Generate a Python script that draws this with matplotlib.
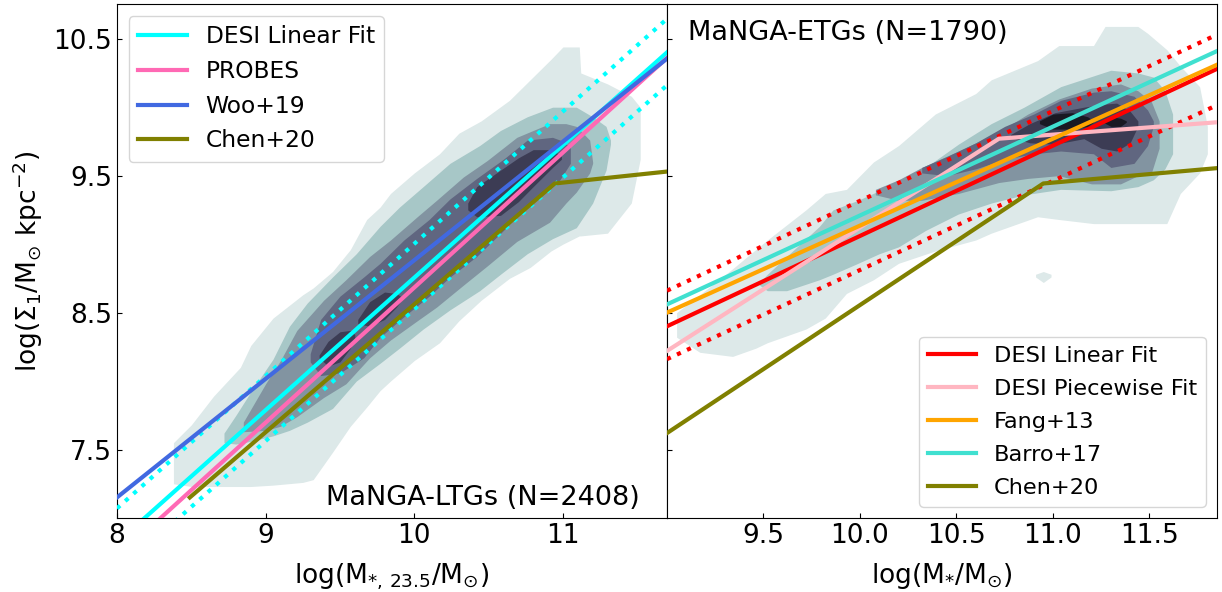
import matplotlib; matplotlib.use("Agg")
import matplotlib.pyplot as plt

# ---- density levels: (x, lower y, upper y) ----
LTG_L1 = [(8.38,7.25,7.55),(8.50,7.23,7.68),(8.65,7.23,7.89),(8.83,7.23,8.10),(8.90,7.23,8.26),
          (9.05,7.24,8.46),(9.25,7.26,8.63),(9.32,7.28,8.68),(9.45,7.48,8.80),(9.57,7.67,8.96),
          (9.68,7.81,9.18),(9.77,7.93,9.27),(9.84,8.00,9.37),(10.00,8.15,9.52),(10.17,8.28,9.66),
          (10.30,8.44,9.81),(10.45,8.59,9.90),(10.64,8.75,10.05),(10.78,8.83,10.20),(10.92,8.95,10.35),
          (11.00,9.00,10.44),(11.11,9.06,10.44),(11.12,9.06,10.25),(11.30,9.08,10.17),(11.46,9.30,10.08),
          (11.52,9.62,10.00)]
LTG_L2 = [(8.72,7.55,7.62),(8.80,7.54,7.75),(8.90,7.56,7.92),(9.05,7.60,8.16),(9.16,7.64,8.40),
          (9.28,7.70,8.57),(9.45,7.80,8.76),(9.61,8.00,8.93),(9.77,8.13,9.13),(9.90,8.24,9.27),
          (10.06,8.38,9.42),(10.24,8.52,9.59),(10.44,8.66,9.72),(10.58,8.78,9.83),(10.76,8.93,9.93),
          (10.93,9.04,10.00),(11.09,9.12,10.00),(11.20,9.30,9.93),(11.29,9.54,9.86),(11.32,9.73,9.76)]
LTG_L3 = [(8.85,7.63,7.70),(9.00,7.64,7.98),(9.10,7.67,8.15),(9.21,7.74,8.37),(9.39,7.88,8.59),
          (9.54,7.98,8.74),(9.70,8.17,8.91),(9.84,8.30,9.03),(10.02,8.44,9.20),(10.15,8.54,9.32),
          (10.33,8.70,9.49),(10.49,8.84,9.61),(10.69,9.02,9.78),(10.91,9.16,9.88),(11.02,9.30,9.88),
          (11.09,9.38,9.86),(11.18,9.52,9.76),(11.20,9.59,9.60)]
LTG_L4 = [(9.30,8.14,8.20),(9.37,8.04,8.45),(9.50,8.06,8.62),(9.66,8.17,8.76),(9.77,8.32,8.86),
          (9.93,8.47,9.03),(10.10,8.62,9.18),(10.24,8.76,9.33),(10.42,8.91,9.48),(10.60,9.10,9.62),
          (10.76,9.28,9.76),(10.93,9.42,9.78),(10.98,9.47,9.76),(11.05,9.59,9.71)]
LTG_L5A = [(9.36,8.17,8.19),(9.42,8.11,8.29),(9.50,8.14,8.36),(9.57,8.24,8.37),(9.60,8.32,8.34)]
LTG_L5B = [(9.62,8.42,8.45),(9.70,8.40,8.58),(9.80,8.45,8.65),(9.88,8.54,8.64),(9.92,8.60,8.61)]
LTG_L5C = [(10.36,9.25,9.30),(10.42,9.20,9.42),(10.58,9.21,9.54),(10.70,9.31,9.63),(10.80,9.42,9.69),
           (10.93,9.56,9.69),(10.99,9.62,9.64)]

ETG_L1 = [(9.05,8.32,8.50),(9.17,8.21,8.63),(9.34,8.18,8.82),(9.46,8.24,8.96),(9.52,8.28,9.03),
          (9.72,8.38,9.25),(9.82,8.46,9.37),(9.93,8.64,9.40),(10.07,8.74,9.60),(10.20,8.86,9.72),
          (10.39,8.95,9.95),(10.60,9.03,10.10),(10.68,9.08,10.20),(10.92,9.20,10.34),(11.03,9.18,10.45),
          (11.21,9.15,10.45),(11.27,9.15,10.59),(11.44,9.15,10.59),(11.49,9.15,10.54),(11.59,9.15,10.42),
          (11.66,9.37,10.30),(11.76,9.52,10.15),(11.80,9.66,9.86)]
ETG_L1B = [(10.91,8.76,8.78),(10.95,8.72,8.80),(10.99,8.76,8.78)]
ETG_L2 = [(9.48,8.70,8.72),(9.52,8.66,8.78),(9.62,8.66,8.91),(9.79,8.74,9.13),(9.86,8.78,9.25),
          (9.99,8.86,9.32),(10.10,8.93,9.39),(10.20,8.98,9.45),(10.34,9.10,9.56),(10.51,9.22,9.73),
          (10.68,9.30,9.88),(10.85,9.36,10.00),(11.04,9.40,10.15),(11.30,9.39,10.27),(11.44,9.42,10.25),
          (11.52,9.47,10.22),(11.58,9.55,10.12),(11.62,9.66,9.95)]
ETG_L3 = [(10.08,9.36,9.40),(10.20,9.32,9.47),(10.32,9.32,9.56),(10.51,9.37,9.68),(10.72,9.45,9.82),
          (10.87,9.48,9.95),(11.03,9.50,10.06),(11.20,9.44,10.14),(11.35,9.44,10.17),(11.44,9.50,10.12),
          (11.51,9.52,10.04),(11.55,9.70,9.90)]
ETG_L4 = [(10.32,9.52,9.56),(10.45,9.50,9.64),(10.60,9.55,9.74),(10.75,9.62,9.86),(10.90,9.66,9.95),
          (11.04,9.68,10.05),(11.21,9.66,10.11),(11.30,9.56,10.12),(11.42,9.59,10.08),(11.49,9.72,9.98),
          (11.52,9.86,9.90)]
ETG_L5 = [(10.78,9.78,9.80),(10.88,9.74,9.88),(11.01,9.73,9.96),(11.16,9.77,10.00),(11.25,9.70,10.02),
          (11.33,9.68,10.03),(11.40,9.74,9.97),(11.44,9.86,9.90)]
ETG_L6A = [(10.93,9.88,9.90),(11.00,9.84,9.95),(11.10,9.84,9.96),(11.18,9.86,9.93),(11.21,9.89,9.90)]
ETG_L6B = [(11.26,9.89,9.90),(11.30,9.86,9.93),(11.35,9.86,9.92),(11.38,9.89,9.90)]

# ---- relations (x, y) ----
LTG_DESI_X = [8.0, 11.7];          LTG_DESI_Y = [6.82, 10.40]
LTG_DESI_UP_Y = [7.07, 10.645];    LTG_DESI_LO_Y = [6.60, 10.16]
LTG_PROBES_Y = [6.71, 10.36]
LTG_WOO_Y = [7.15, 10.355]
LTG_CHEN_X = [8.49, 10.945, 11.7]; LTG_CHEN_Y = [7.15, 9.443, 9.53]

ETG_X = [9.0, 11.85]
ETG_DESI_Y = [8.40, 10.28]
ETG_DESI_UP_Y = [8.66, 10.53];     ETG_DESI_LO_Y = [8.16, 10.015]
ETG_FANG_Y = [8.50, 10.31]
ETG_BARRO_Y = [8.56, 10.41]
ETG_PW_X = [9.0, 10.72, 11.85];    ETG_PW_Y = [8.22, 9.77, 9.89]
ETG_CHEN_X = [9.0, 10.95, 11.85];  ETG_CHEN_Y = [7.62, 9.443, 9.555]

LEVEL_COLORS = plt.cm.bone_r([0.10, 0.25, 0.42, 0.57, 0.73, 0.885])

def band(ax, pts, level):
    x = [p[0] for p in pts]; lo = [p[1] for p in pts]; hi = [p[2] for p in pts]
    ax.fill_between(x, lo, hi, color=LEVEL_COLORS[level], lw=0, zorder=1)

fig = plt.figure(figsize=(12.22, 5.92), dpi=100)
axL = fig.add_axes([0.0957, 0.125, 0.4501, 0.8674])
axR = fig.add_axes([0.5458, 0.125, 0.4501, 0.8674], sharey=axL)

for i, lv in enumerate([[LTG_L1], [LTG_L2], [LTG_L3], [LTG_L4], [LTG_L5A, LTG_L5B, LTG_L5C]]):
    for pts in lv: band(axL, pts, i)
for i, lv in enumerate([[ETG_L1, ETG_L1B], [ETG_L2], [ETG_L3], [ETG_L4], [ETG_L5], [ETG_L6A, ETG_L6B]]):
    for pts in lv: band(axR, pts, i)

lw = 3
axL.plot(LTG_DESI_X, LTG_DESI_Y, color="cyan", lw=lw, label="DESI Linear Fit", zorder=3)
axL.plot(LTG_DESI_X, LTG_DESI_UP_Y, color="cyan", lw=lw, ls=":", zorder=3)
axL.plot(LTG_DESI_X, LTG_DESI_LO_Y, color="cyan", lw=lw, ls=":", zorder=3)
axL.plot(LTG_DESI_X, LTG_PROBES_Y, color="hotpink", lw=lw, label="PROBES", zorder=3)
axL.plot(LTG_DESI_X, LTG_WOO_Y, color="royalblue", lw=lw, label="Woo+19", zorder=3)
axL.plot(LTG_CHEN_X, LTG_CHEN_Y, color="olive", lw=lw, label="Chen+20", zorder=3)

axR.plot(ETG_X, ETG_DESI_Y, color="red", lw=lw, label="DESI Linear Fit", zorder=3)
axR.plot(ETG_X, ETG_DESI_UP_Y, color="red", lw=lw, ls=":", zorder=3)
axR.plot(ETG_X, ETG_DESI_LO_Y, color="red", lw=lw, ls=":", zorder=3)
axR.plot(ETG_PW_X, ETG_PW_Y, color="lightpink", lw=lw, label="DESI Piecewise Fit", zorder=3)
axR.plot(ETG_X, ETG_FANG_Y, color="orange", lw=lw, label="Fang+13", zorder=3)
axR.plot(ETG_X, ETG_BARRO_Y, color="turquoise", lw=lw, label="Barro+17", zorder=3)
axR.plot(ETG_CHEN_X, ETG_CHEN_Y, color="olive", lw=lw, label="Chen+20", zorder=3)

axL.set_xlim(8.0, 11.7); axR.set_xlim(9.0, 11.85); axL.set_ylim(7.0, 10.75)
axL.set_xticks([8, 9, 10, 11]); axR.set_xticks([9.5, 10.0, 10.5, 11.0, 11.5])
axL.set_yticks([7.5, 8.5, 9.5, 10.5])
for ax in (axL, axR):
    ax.tick_params(direction="in", labelsize=19)
axR.tick_params(labelleft=False)

axL.set_xlabel(r"log(M$_{*,\,23.5}$/M$_{\odot}$)", fontsize=19, labelpad=9)
axR.set_xlabel(r"log(M$_{*}$/M$_{\odot}$)", fontsize=19, labelpad=9)
axL.set_ylabel(r"log($\Sigma_1$/M$_{\odot}$ kpc$^{-2}$)", fontsize=19, labelpad=6)

axL.text(0.951, 0.025, "MaNGA-LTGs (N=2408)", transform=axL.transAxes, ha="right", va="baseline", fontsize=19.5)
axR.text(0.038, 0.931, "MaNGA-ETGs (N=1790)", transform=axR.transAxes, ha="left", va="baseline", fontsize=19.5)

axL.legend(loc="upper left", fontsize=16.8, handlelength=2.1)
axR.legend(loc="lower right", fontsize=16.2, handlelength=2.1, labelspacing=0.58)

fig.savefig("out.png", dpi=100)
